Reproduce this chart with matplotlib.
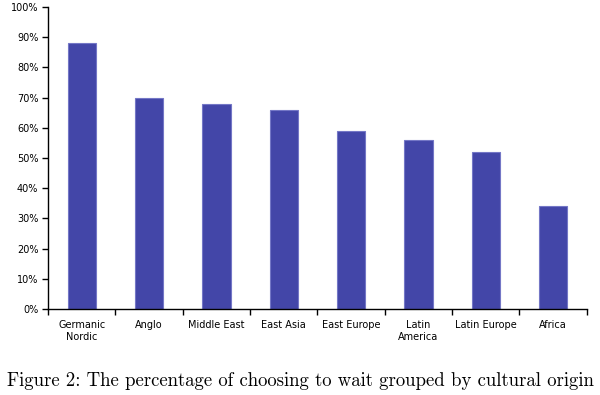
import numpy as np
import matplotlib.pyplot as plt
from matplotlib.ticker import PercentFormatter

categories = ['Germanic\nNordic', 'Anglo', 'Middle East', 'East Asia',
              'East Europe', 'Latin\nAmerica', 'Latin Europe', 'Africa']
values = [88, 70, 68, 66, 59, 56, 52, 34]

plt.rcParams['font.family'] = 'DejaVu Sans'

fig = plt.figure(figsize=(6, 3.95), dpi=100)
ax = fig.add_axes([0.08, 0.218, 0.898, 0.764])

x = np.arange(len(categories))
ax.bar(x, values, width=0.42, color='#4346A8', edgecolor='#7477c6', linewidth=0.8)

ax.set_xlim(-0.5, len(categories) - 0.5)
ax.set_ylim(0, 100)
ax.set_yticks(np.arange(0, 101, 10))
ax.yaxis.set_major_formatter(PercentFormatter(decimals=0))

# ticks between categories, labels centred
ax.set_xticks(np.arange(len(categories) + 1) - 0.5)
ax.set_xticklabels([])
ax.set_xticks(x, minor=True)
ax.set_xticklabels(categories, minor=True)
ax.tick_params(axis='x', which='minor', length=0, pad=8, labelsize=7)
ax.tick_params(axis='x', which='major', length=4, width=1, direction='out')
ax.tick_params(axis='y', length=4, width=1, direction='out', labelsize=7, pad=3)

for s in ['top', 'right']:
    ax.spines[s].set_visible(False)
for s in ['left', 'bottom']:
    ax.spines[s].set_linewidth(1)

fig.text(0.5, 0.022, 'Figure 2: The percentage of choosing to wait grouped by cultural origin',
         ha='center', va='baseline', fontsize=13.5, family='cmr10')

fig.savefig('out.png', dpi=100)
